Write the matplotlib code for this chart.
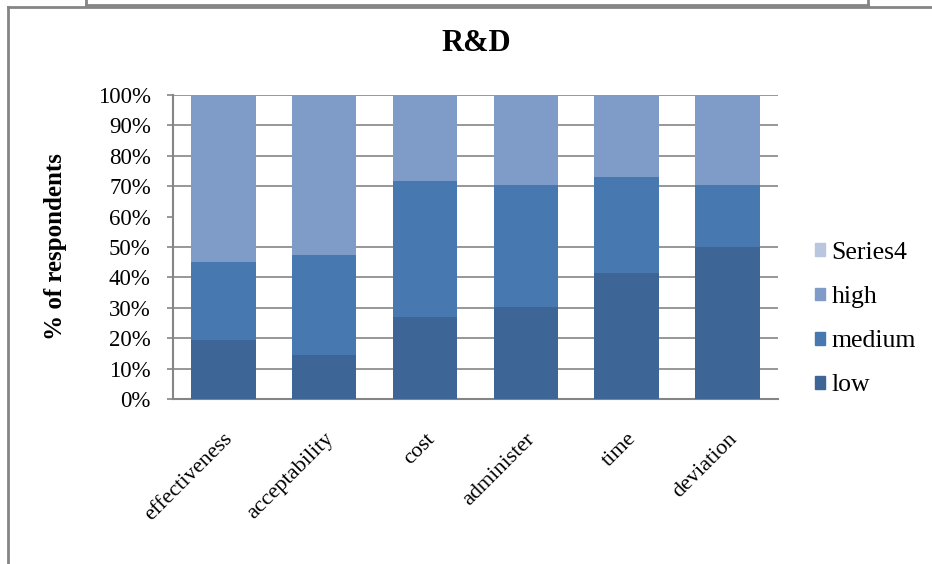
import matplotlib
matplotlib.use("Agg")
import matplotlib.pyplot as plt
import numpy as np
from matplotlib.lines import Line2D
from matplotlib.patches import Patch

categories = ["effectiveness", "acceptability", "cost", "administer", "time", "deviation"]
low = [19.3, 14.4, 26.9, 30.2, 41.6, 50.0]
medium = [25.6, 33.1, 44.9, 40.3, 31.5, 20.5]
high = [55.1, 52.5, 28.2, 29.5, 26.9, 29.5]
series4 = [0, 0, 0, 0, 0, 0]
yticks = [0, 10, 20, 30, 40, 50, 60, 70, 80, 90, 100]
ytick_labels = [f"{v}%" for v in yticks]
grid_levels = [10, 20, 30, 40, 50, 70, 80, 90, 100]

c_low = "#3D6596"
c_med = "#4878B0"
c_high = "#7F9CC8"
c_s4 = "#B8C6DF"
gray = "#858585"

plt.rcParams["font.family"] = ["Liberation Serif", "DejaVu Serif"]

fig = plt.figure(figsize=(9.32, 5.64), dpi=100)
ax = fig.add_axes([0.1856, 0.2926, 0.649, 0.539])

x = np.arange(len(categories))
w = 0.64
ax.bar(x, low, w, color=c_low, zorder=3)
ax.bar(x, medium, w, bottom=low, color=c_med, zorder=3)
bot2 = np.array(low) + np.array(medium)
ax.bar(x, high, w, bottom=bot2, color=c_high, zorder=3)
ax.bar(x, series4, w, bottom=bot2 + np.array(high), color=c_s4, zorder=3)

for g in grid_levels:
    ax.axhline(g, color=gray, lw=1.2, zorder=1)

ax.set_xlim(-0.5, len(categories) - 0.5)
ax.set_ylim(0, 100)
ax.set_yticks(yticks)
ax.set_yticklabels(ytick_labels, fontsize=16.5)
ax.set_xticks(x)
ax.set_xticklabels(categories, fontsize=16, rotation=45, ha="right",
                   rotation_mode="anchor")
ax.tick_params(axis="x", length=0, pad=22)
ax.tick_params(axis="y", length=4, width=1.2, color=gray, pad=12, direction="out")
for s in ["top", "right"]:
    ax.spines[s].set_visible(False)
ax.spines["left"].set_color(gray)
ax.spines["left"].set_linewidth(1.5)
ax.spines["bottom"].set_color(gray)
ax.spines["bottom"].set_linewidth(1.5)
ax.spines["left"].set_zorder(4)

ax.set_ylabel("% of respondents", fontsize=18, fontweight="bold", labelpad=22)
fig.text(0.511, 0.922, "R&D", ha="center", va="center", fontsize=22,
         fontweight="bold")

handles = [Patch(color=c_s4), Patch(color=c_high), Patch(color=c_med), Patch(color=c_low)]
labels = ["Series4", "high", "medium", "low"]
fig.legend(handles, labels, loc="center left", bbox_to_anchor=(0.874, 0.434),
           frameon=False, fontsize=18.5, handlelength=0.4, handleheight=0.4,
           handletextpad=0.25, labelspacing=0.86, borderpad=0, borderaxespad=0)

# chart frame lines
def hline(y, x0, x1, lw=2):
    fig.add_artist(Line2D([x0 / 932, x1 / 932], [1 - y / 564, 1 - y / 564],
                          color=gray, lw=lw, transform=fig.transFigure))

def vline(xp, y0, y1, lw=2):
    fig.add_artist(Line2D([xp / 932, xp / 932], [1 - y0 / 564, 1 - y1 / 564],
                          color=gray, lw=lw, transform=fig.transFigure))

hline(7, 8, 932)
vline(8, 7, 564)
hline(5, 86, 868)
vline(86, 0, 5)
vline(868, 0, 5)

fig.savefig("out.png", dpi=100)
